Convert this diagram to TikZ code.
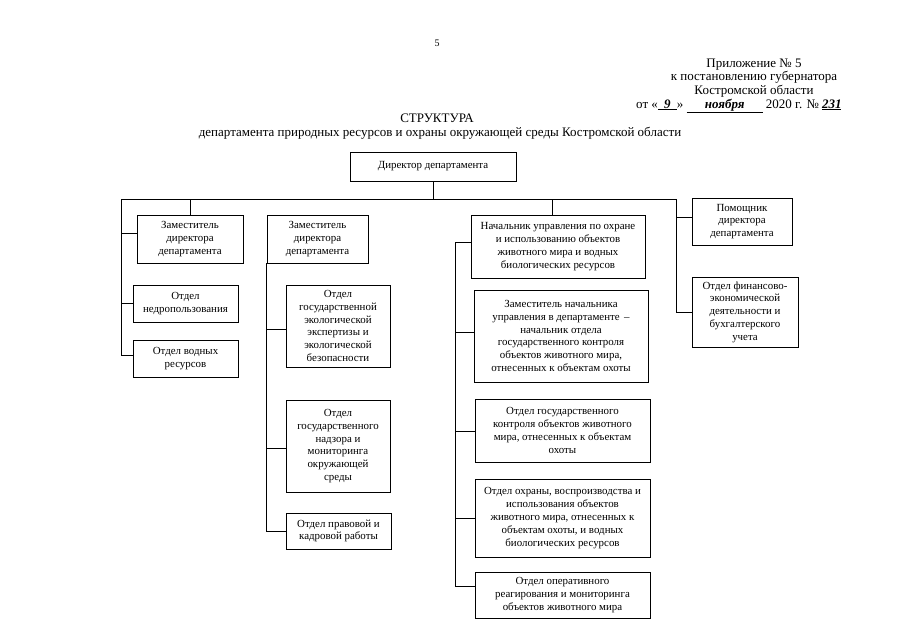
\documentclass[tikz,border=0pt]{standalone}
\usepackage{fontspec}
\setmainfont{Liberation Serif}
\begin{document}
\begin{tikzpicture}[x=1pt,y=-1pt,
  box/.style={draw, line width=0.8pt, align=center, inner sep=1pt,
    font=\fontsize{10.9}{12.8}\selectfont},
  conn/.style={line width=0.8pt},
  hdr/.style={font=\fontsize{13}{13.5}\selectfont, inner sep=0pt}]
\useasboundingbox[fill=white] (0,0) rectangle (905,640);

% header
\node[font=\fontsize{10}{12}\selectfont] (pg) at (437,43) {5};
\node[hdr, align=center] (app) at (754,78) {Приложение № 5\\к постановлению губернатора\\Костромской области};
\node[hdr, anchor=base west] (date) at (636,108)
  {от «\underline{\makebox[19pt]{\bfseries\itshape 9}}» \underline{\makebox[76pt]{\bfseries\itshape ноября}} 2020 г. № \underline{\makebox[19pt]{\bfseries\itshape 231}}};
\node[hdr] (t1) at (437,118) {СТРУКТУРА};
\node[hdr] (t2) at (440,133) {департамента природных ресурсов и охраны окружающей среды Костромской области};

% boxes
\node[box, minimum width=166pt, minimum height=29pt] (dir) at (433,166.5) {Директор департамента};

\node[box, minimum width=106pt, minimum height=48pt] (zam1) at (190,239) {Заместитель\\директора\\департамента};
\node[box, minimum width=105pt, minimum height=37pt] (nedro) at (185.5,303.5) {Отдел\\недропользования};
\node[box, minimum width=105pt, minimum height=37pt] (vody) at (185.5,358.5) {Отдел водных\\ресурсов};

\node[box, minimum width=101pt, minimum height=48pt] (zam2) at (317.5,239) {Заместитель\\директора\\департамента};
\node[box, minimum width=104pt, minimum height=82pt] (eko) at (338,326) {Отдел\\государственной\\экологической\\экспертизы и\\экологической\\безопасности};
\node[box, minimum width=104pt, minimum height=92pt] (nadzor) at (338,446) {Отдел\\государственного\\надзора и\\мониторинга\\окружающей\\среды};
\node[box, minimum width=105pt, minimum height=36pt] (prav) at (338.5,531) {Отдел правовой и\\кадровой работы};

\node[box, minimum width=174pt, minimum height=63pt] (nach) at (558,246.5) {Начальник управления по охране\\и использованию объектов\\животного мира и водных\\биологических ресурсов};
\node[box, minimum width=174pt, minimum height=92pt] (zamn) at (561,336) {Заместитель начальника\\управления в департаменте \,–\\начальник отдела\\государственного контроля\\объектов животного мира,\\отнесенных к объектам охоты};
\node[box, minimum width=175pt, minimum height=63pt] (kontr) at (562.5,430.5) {Отдел государственного\\контроля объектов животного\\мира, отнесенных к объектам\\охоты};
\node[box, minimum width=175pt, minimum height=78pt] (ohr) at (562.5,518) {Отдел охраны, воспроизводства и\\использования объектов\\животного мира, отнесенных к\\объектам охоты, и водных\\биологических ресурсов};
\node[box, minimum width=175pt, minimum height=46pt] (oper) at (562.5,595) {Отдел оперативного\\реагирования и мониторинга\\объектов животного мира};

\node[box, minimum width=100pt, minimum height=47pt] (pom) at (742,221.5) {Помощник\\директора\\департамента};
\node[box, minimum width=106pt, minimum height=70pt] (fin) at (745,312) {Отдел финансово-\\экономической\\деятельности и\\бухгалтерского\\учета};

% stub end points
\coordinate (s-zam1) at ([yshift=6pt]zam1.west);
\coordinate (s-vody) at ([yshift=3pt]vody.west);
\coordinate (s-eko) at ([yshift=-3pt]eko.west);
\coordinate (s-nadzor) at ([yshift=-2pt]nadzor.west);
\coordinate (s-nach) at ([yshift=4pt]nach.west);
\coordinate (s-zamn) at ([yshift=4pt]zamn.west);
\coordinate (s-kontr) at ([yshift=-1pt]kontr.west);
\coordinate (s-oper) at ([yshift=9pt]oper.west);
\coordinate (s-pom) at ([yshift=4pt]pom.west);
\coordinate (t-nach) at ([xshift=-6pt]nach.north);

% bus
\coordinate (bl) at (121,199);
\coordinate (br) at (676,199);
\draw[conn] (bl) -- (br);
\draw[conn] (dir.south) -- (dir.south |- bl);

% column 1
\draw[conn] (zam1.north) -- (zam1.north |- bl);
\draw[conn] (bl) |- (s-vody);
\draw[conn] (bl |- nedro.west) -- (nedro.west);
\draw[conn] (bl |- s-zam1) -- (s-zam1);

% column 2
\draw[conn] (zam2.south west) |- (prav.west);
\draw[conn] (zam2.south west |- s-eko) -- (s-eko);
\draw[conn] (zam2.south west |- s-nadzor) -- (s-nadzor);

% column 3
\draw[conn] (t-nach) -- (t-nach |- bl);
\draw[conn] (s-nach) -- ++(-15,0) coordinate (c3) |- (s-oper);
\draw[conn] (c3 |- s-zamn) -- (s-zamn);
\draw[conn] (c3 |- s-kontr) -- (s-kontr);
\draw[conn] (c3 |- ohr.west) -- (ohr.west);

% column 4
\draw[conn] (br) |- (fin.west);
\draw[conn] (br |- s-pom) -- (s-pom);
\end{tikzpicture}
\end{document}
